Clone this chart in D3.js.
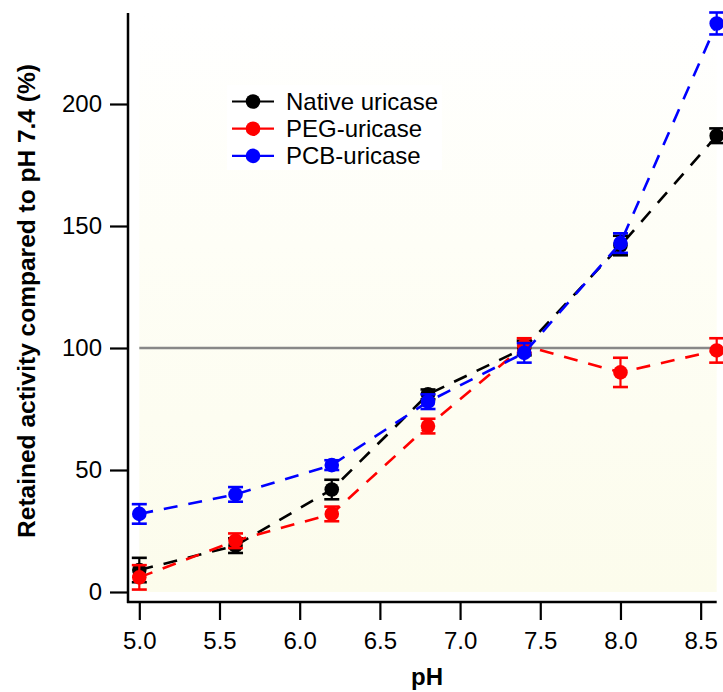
<!DOCTYPE html>
<html>
<head>
<meta charset="utf-8">
<script src="https://d3js.org/d3.v7.min.js"></script>
<style>
  body { margin: 0; background: #fff; }
  text { font-family: "Liberation Sans", Arial, sans-serif; }
</style>
</head>
<body>
<script>
// data
var phValues = [5.0, 5.6, 6.2, 6.8, 7.4, 8.0, 8.6];
var nativeMean = [9, 19, 42, 81, 100, 142, 187];
var nativeErr = [5, 3, 4, 2, 3, 4, 3];
var pegMean = [6, 21, 32, 68, 101, 90, 99];
var pegErr = [5, 3, 3, 3, 3, 6, 5];
var pcbMean = [32, 40, 52, 78, 98, 143, 233];
var pcbErr = [4, 3, 2, 3, 4, 4, 4.5];
var seriesNames = ["Native uricase", "PEG-uricase", "PCB-uricase"];
var seriesColors = ["#000000", "#ff0000", "#0000ff"];
var xTicks = [5.0, 5.5, 6.0, 6.5, 7.0, 7.5, 8.0, 8.5];
var yTicks = [0, 50, 100, 150, 200];

var series = [
  { name: seriesNames[0], color: seriesColors[0], mean: nativeMean, err: nativeErr },
  { name: seriesNames[1], color: seriesColors[1], mean: pegMean, err: pegErr },
  { name: seriesNames[2], color: seriesColors[2], mean: pcbMean, err: pcbErr }
];

var width = 723, height = 692;
var svg = d3.select("body").append("svg")
  .attr("width", width)
  .attr("height", height);

var x = d3.scaleLinear().domain([5.0, 8.6]).range([139.3, 716.7]);
var y = d3.scaleLinear().domain([0, 200]).range([592, 104]);

// background gradient of the plot area
var defs = svg.append("defs");
var grad = defs.append("linearGradient")
  .attr("id", "bg")
  .attr("x1", 0).attr("y1", 1).attr("x2", 0).attr("y2", 0);
grad.append("stop").attr("offset", "0%").attr("stop-color", "#fcfcec");
grad.append("stop").attr("offset", "60%").attr("stop-color", "#fefef6");
grad.append("stop").attr("offset", "100%").attr("stop-color", "#ffffff");

svg.append("rect")
  .attr("x", x(5.0))
  .attr("y", y(237.3))
  .attr("width", x(8.6) - x(5.0))
  .attr("height", y(0) - y(237.3))
  .attr("fill", "url(#bg)");

// reference line at 100 %
svg.append("line")
  .attr("x1", x(5.0)).attr("x2", x(8.6))
  .attr("y1", y(100)).attr("y2", y(100))
  .attr("stroke", "#888888")
  .attr("stroke-width", 2.6);

// axes
var yAxisX = 128, xAxisY = 602;

var yAxis = svg.append("g")
  .attr("transform", "translate(" + yAxisX + ",0)")
  .call(d3.axisLeft(y).tickValues(yTicks).tickSize(18).tickPadding(8).tickFormat(d3.format("d")));
yAxis.select(".domain").remove();
yAxis.selectAll(".tick line").attr("stroke", "#000").attr("stroke-width", 2.2);
yAxis.selectAll(".tick text").attr("font-size", "24px").attr("fill", "#000")
  .attr("font-family", "'Liberation Sans', Arial, sans-serif");

var xAxis = svg.append("g")
  .attr("transform", "translate(0," + xAxisY + ")")
  .call(d3.axisBottom(x).tickValues(xTicks).tickSize(18).tickPadding(12).tickFormat(d3.format(".1f")));
xAxis.select(".domain").remove();
xAxis.selectAll(".tick line").attr("stroke", "#000").attr("stroke-width", 2.2);
xAxis.selectAll(".tick text").attr("font-size", "24px").attr("fill", "#000")
  .attr("font-family", "'Liberation Sans', Arial, sans-serif");

svg.append("line")
  .attr("x1", yAxisX).attr("x2", yAxisX)
  .attr("y1", y(237.3)).attr("y2", xAxisY + 1)
  .attr("stroke", "#000").attr("stroke-width", 2.5);
svg.append("line")
  .attr("x1", yAxisX - 1).attr("x2", x(8.6))
  .attr("y1", xAxisY).attr("y2", xAxisY)
  .attr("stroke", "#000").attr("stroke-width", 2.5);

// axis titles
svg.append("text")
  .attr("transform", "translate(35," + 301 + ") rotate(-90)")
  .attr("text-anchor", "middle")
  .attr("font-size", "24.5px")
  .attr("font-weight", "bold")
  .text("Retained activity compared to pH 7.4 (%)");

svg.append("text")
  .attr("x", 427)
  .attr("y", 685)
  .attr("text-anchor", "middle")
  .attr("font-size", "24px")
  .attr("font-weight", "bold")
  .text("pH");

// series
var line = d3.line()
  .x(function(d) { return x(d.ph); })
  .y(function(d) { return y(d.v); });

series.forEach(function(s) {
  var pts = phValues.map(function(p, i) {
    return { ph: p, v: s.mean[i], e: s.err[i] };
  });
  var g = svg.append("g");

  g.append("path")
    .datum(pts)
    .attr("d", line)
    .attr("fill", "none")
    .attr("stroke", s.color)
    .attr("stroke-width", 2.6)
    .attr("stroke-dasharray", "14,11");

  var eb = g.selectAll(".eb").data(pts).enter().append("g");
  eb.append("line")
    .attr("x1", function(d) { return x(d.ph); })
    .attr("x2", function(d) { return x(d.ph); })
    .attr("y1", function(d) { return y(d.v + d.e); })
    .attr("y2", function(d) { return y(d.v - d.e); })
    .attr("stroke", s.color).attr("stroke-width", 2.2);
  [1, -1].forEach(function(sign) {
    eb.append("line")
      .attr("x1", function(d) { return x(d.ph) - 7.5; })
      .attr("x2", function(d) { return x(d.ph) + 7.5; })
      .attr("y1", function(d) { return y(d.v + sign * d.e); })
      .attr("y2", function(d) { return y(d.v + sign * d.e); })
      .attr("stroke", s.color).attr("stroke-width", 2.6);
  });

  g.selectAll("circle").data(pts).enter().append("circle")
    .attr("cx", function(d) { return x(d.ph); })
    .attr("cy", function(d) { return y(d.v); })
    .attr("r", 7.3)
    .attr("fill", s.color);
});

// legend
var legend = svg.append("g");
legend.append("rect")
  .attr("x", 227).attr("y", 85)
  .attr("width", 215).attr("height", 85)
  .attr("fill", "#ffffff");

series.forEach(function(s, i) {
  var ly = 101.5 + i * 27.2;
  legend.append("line")
    .attr("x1", 232).attr("x2", 274)
    .attr("y1", ly).attr("y2", ly)
    .attr("stroke", s.color).attr("stroke-width", 2.2);
  legend.append("circle")
    .attr("cx", 253).attr("cy", ly).attr("r", 7.3)
    .attr("fill", s.color);
  legend.append("text")
    .attr("x", 286).attr("y", ly + 8.5)
    .attr("font-size", "24px")
    .text(s.name);
});
</script>
</body>
</html>
